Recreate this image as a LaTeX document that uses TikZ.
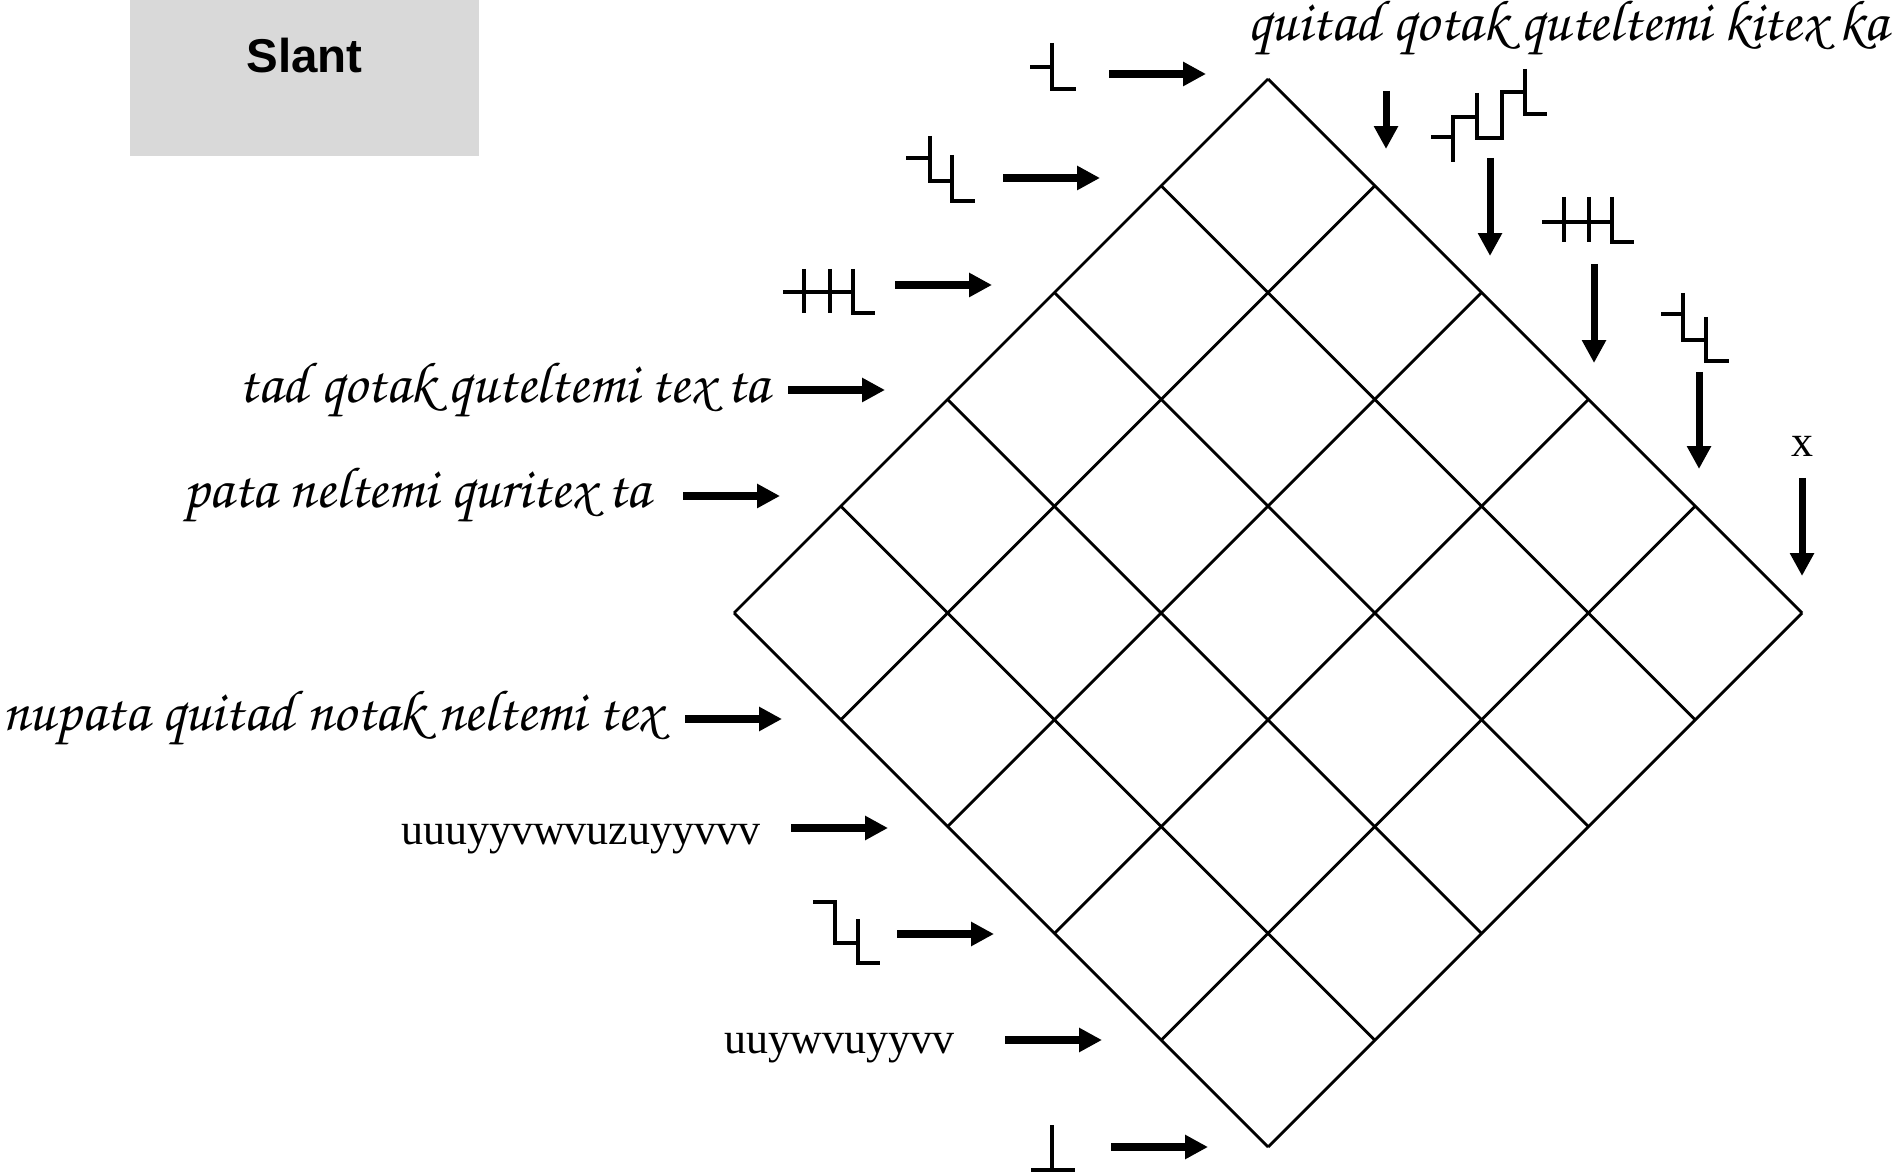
\documentclass[tikz,border=0pt]{standalone}
\usepackage{fontspec}
\usepackage[T1,TU]{fontenc}
\setmainfont{Liberation Serif}
\newfontfamily\titlefont{Liberation Sans}
\newcommand{\handfont}{\fontencoding{T1}\fontfamily{pzc}\fontseries{mb}\fontshape{it}\fontsize{16.5}{20}\selectfont}
\usetikzlibrary{positioning, arrows.meta}

\begin{document}
\begin{tikzpicture}[
  x=0.01cm, y=-0.01cm,
  cell/.style = {draw=black, line width=0.8pt},
  arrow/.style = {-{Triangle[length=6.5pt, width=6.5pt]}, line width=2pt},
  sig/.style = {line width=1.1pt},
  hand/.style = {font=\handfont, inner sep=0pt},
  serif/.style = {font=\fontsize{12.5}{15}\selectfont, inner sep=0pt},
  titlebox/.style = {rectangle, fill=black!15, minimum width=3.49cm,
                     minimum height=2cm,
                     font=\titlefont\bfseries\fontsize{13.5}{16}\selectfont},
]
\useasboundingbox (0,0) rectangle (1901,1174);

% Title
\node[titlebox] (title) at (304.5,56) {Slant};

% Slanted grid
\foreach \k in {0,...,5} {
  \draw[cell] ({734+106.8*\k},{613-106.8*\k}) -- ++(534,534);
  \draw[cell] ({734+106.8*\k},{613+106.8*\k}) -- ++(534,-534);
}

% Row arrows
\foreach \n/\xs/\xt/\yy in {1/1109/1206/74, 2/1003/1100/178, 3/895/992/285,
    4/788/885/390, 5/683/780/496, 6/685/782/719, 7/791/888/828,
    8/897/994/934, 9/1005/1102/1040, 10/1111/1208/1147} {
  \coordinate (in\n) at (\xs,\yy);
  \coordinate (tip\n) at (\xt,\yy);
  \draw[arrow] (in\n) -- (tip\n);
}

% Column arrows
\foreach \n/\xx/\ys/\yt in {a/1386/91/149, b/1490/158/256, c/1594/264/363,
    d/1699/372/469, e/1802/478/576} {
  \coordinate (top\n) at (\xx,\ys);
  \coordinate (end\n) at (\xx,\yt);
  \draw[arrow] (top\n) -- (end\n);
}

% Row labels
\node[hand, anchor=base east] (lab4) at (770,403) {tad qotak quteltemi tex ta};
\node[hand, anchor=base east] (lab5) at (651,508) {pata neltemi quritex ta};
\node[hand, anchor=base east] (lab6) at (662,731) {nupata quitad notak neltemi tex};
\node[serif, anchor=base east] (lab7) at (761,845) {uuuyyvwvuzuyyvvv};
\node[serif, anchor=base east] (lab9) at (955,1053) {uuywvuyyvv};

% Column labels
\node[hand, anchor=base east] (laba) at (1889,41) {quitad qotak quteltemi kitex ka};
\node[serif, anchor=base] (labe) at (1802,457) {x};

% Signal glyphs, rows
\draw[sig] (1030,67) -- (1052,67) (1052,43) -- (1052,89) -- (1076,89);
\draw[sig] (906,158) -- (930,158) (930,136) -- (930,181) -- (952,181)
           (952,155) -- (952,201) -- (975,201);
\draw[sig] (783,292) -- (853,292) (804,269) -- (804,313) (830,269) -- (830,313)
           (853,269) -- (853,313) -- (875,313);
\draw[sig] (813,902) -- (835,902) -- (835,943) -- (858,943)
           (858,919) -- (858,963) -- (880,963);
\draw[sig] (1052,1125) -- (1052,1170) (1031,1170) -- (1075,1170);

% Signal glyphs, columns
\draw[sig] (1431,137) -- (1453,137) (1453,162) -- (1453,117) -- (1477,117)
           (1477,93) -- (1477,138) -- (1502,138) -- (1502,92) -- (1525,92)
           (1525,69) -- (1525,114) -- (1547,114);
\draw[sig] (1542,222) -- (1612,222) (1564,197) -- (1564,242) (1589,197) -- (1589,242)
           (1612,197) -- (1612,242) -- (1634,242);
\draw[sig] (1661,314) -- (1683,314) (1683,293) -- (1683,340) -- (1706,340)
           (1706,317) -- (1706,361) -- (1729,361);

\end{tikzpicture}
\end{document}
